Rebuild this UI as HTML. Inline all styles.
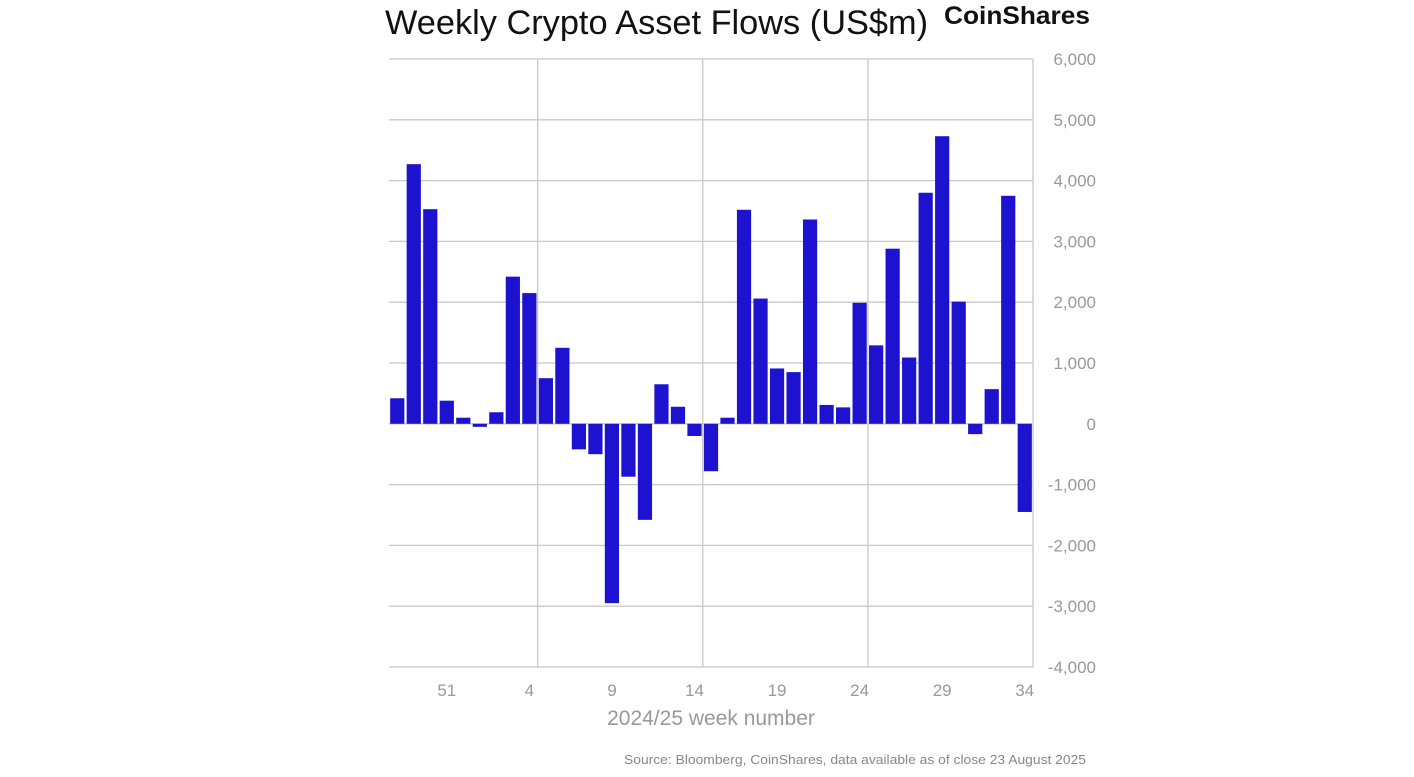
<!DOCTYPE html>
<html><head><meta charset="utf-8"><style>
body{margin:0;background:#fff;width:1414px;height:772px;overflow:hidden;font-family:"Liberation Sans",sans-serif}
</style></head><body>
<svg width="1414" height="772">
<text x="385" y="34" font-size="34" fill="#111" textLength="543" lengthAdjust="spacingAndGlyphs">Weekly Crypto Asset Flows (US$m)</text>
<text x="944" y="24" font-size="25" font-weight="bold" fill="#111" textLength="146" lengthAdjust="spacingAndGlyphs">CoinShares</text>
<g id="grid"></g>
<g id="bars"></g>
<g id="ylab"></g>
<g id="xlab"></g>
<text x="711" y="725" font-size="21" fill="#999" text-anchor="middle">2024/25 week number</text>
<text x="624" y="764" font-size="13" fill="#888" textLength="462" lengthAdjust="spacingAndGlyphs">Source: Bloomberg, CoinShares, data available as of close 23 August 2025</text>
</svg>
<script>
const weeks=[48,49,50,51,52,1,2,3,4,5,6,7,8,9,10,11,12,13,14,15,16,17,18,19,20,21,22,23,24,25,26,27,28,29,30,31,32,33,34];
const flows=[420,4270,3530,380,100,-50,190,2420,2150,750,1250,-420,-500,-2950,-870,-1580,650,280,-200,-780,100,3520,2060,910,850,3360,310,270,1990,1290,2880,1090,3800,4730,2010,-170,570,3750,-1450];
const yTicks=[6000,5000,4000,3000,2000,1000,0,-1000,-2000,-3000,-4000];
const xTickLabels=["51","4","9","14","19","24","29","34"];
const X0=389,X1=1033,YT=59,YB=667,YMAX=6000,YMIN=-4000;
const step=(X1-X0)/weeks.length;
const y=v=>YT+(YMAX-v)/(YMAX-YMIN)*(YB-YT);
const xc=i=>X0+step*(i+0.5);
const NS="http://www.w3.org/2000/svg";
function mk(t,a,p){const e=document.createElementNS(NS,t);for(const k in a)e.setAttribute(k,a[k]);p.appendChild(e);return e;}
const g=document.getElementById('grid'),b=document.getElementById('bars'),yl=document.getElementById('ylab'),xl=document.getElementById('xlab');
yTicks.forEach(v=>{
 const l=mk('line',{x1:X0,x2:X1,y1:y(v),y2:y(v),stroke:'#c8c8c8','stroke-width':1.3},g);
 
 
 const t=mk('text',{x:1096,y:y(v)+6,'font-size':17,fill:'#999','text-anchor':'end'},yl);
 t.textContent=v.toLocaleString('en-US');
 
 
});
[9,19,29,39].forEach(i=>{
 const xx=X0+step*i;
 const l=mk('line',{x1:xx,x2:xx,y1:YT,y2:YB,stroke:'#c8c8c8','stroke-width':1.3},g);
 
 
});
flows.forEach((v,i)=>{
 const w=step*0.86;
 const r=mk('rect',{x:xc(i)-w/2,y:Math.min(y(v),y(0)),width:w,height:Math.abs(y(v)-y(0)),fill:'#1d12cf'},b);
 
 
});
xTickLabels.forEach(lab=>{
 const i=weeks.indexOf(+lab);
 const t=mk('text',{x:xc(i),y:696,'font-size':17,fill:'#999','text-anchor':'middle'},xl);
 t.textContent=lab;
 
 
});
</script>
</body></html>
